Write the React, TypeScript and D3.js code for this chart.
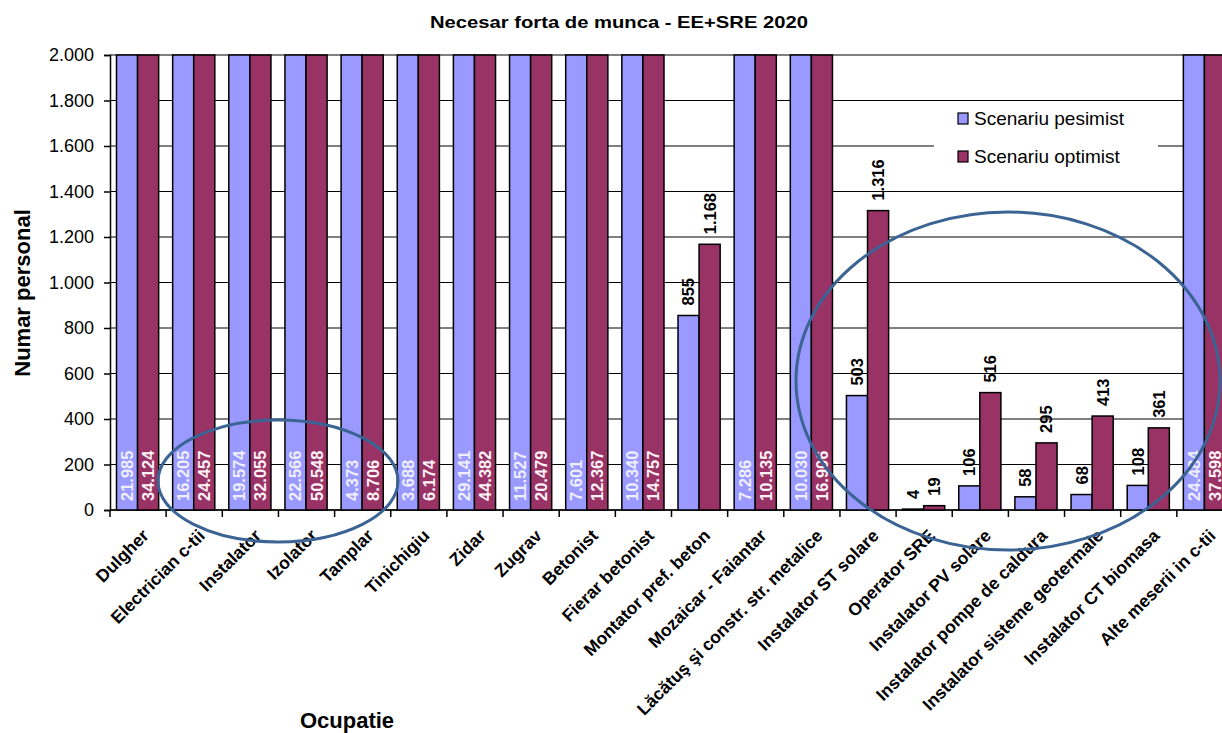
import React, { useRef, useEffect } from "react";
import * as d3 from "d3";

const categories: string[] = [
  "Dulgher",
  "Electrician c-tii",
  "Instalator",
  "Izolator",
  "Tamplar",
  "Tinichigiu",
  "Zidar",
  "Zugrav",
  "Betonist",
  "Fierar betonist",
  "Montator pref. beton",
  "Mozaicar - Faiantar",
  "Lăcătuş şi constr. str. metalice",
  "Instalator ST solare",
  "Operator SRE",
  "Instalator PV solare",
  "Instalator pompe de caldura",
  "Instalator sisteme geotermale",
  "Instalator CT biomasa",
  "Alte meserii in c-tii",
];

const pesimist: number[] = [
  21985, 16205, 19574, 22566, 4373, 3688, 29141, 11527, 7601, 10340, 855, 7286,
  10030, 503, 4, 106, 58, 68, 108, 24484,
];

const optimist: number[] = [
  34124, 24457, 32055, 50548, 8706, 6174, 44382, 20479, 12367, 14757, 1168,
  10135, 16906, 1316, 19, 516, 295, 413, 361, 37598,
];

const seriesNames: string[] = ["Scenariu pesimist", "Scenariu optimist"];
const yTicks: number[] = [0, 200, 400, 600, 800, 1000, 1200, 1400, 1600, 1800, 2000];

const COLORS = ["#9999ff", "#993366"];
const INSIDE_TEXT = ["#eeeeff", "#fff2f6"];
const FONT = "'Liberation Sans', Arial, sans-serif";

const roFormat = d3.formatLocale({
  decimal: ",",
  thousands: ".",
  grouping: [3],
  currency: ["", ""],
}).format(",d");

const App: React.FC = () => {
  const d3Container = useRef<SVGSVGElement>(null);

  useEffect(() => {
    const width = 1222;
    const height = 733;
    const left = 110;
    const top = 55;
    const bottom = 510;
    const right = 1233;

    const svg = d3.select(d3Container.current);
    svg.selectChildren().remove();

    svg
      .append("rect")
      .attr("width", width)
      .attr("height", height)
      .attr("fill", "#fff");

    const x = d3.scaleBand().domain(categories).range([left, right]).padding(0);
    const xs = d3
      .scaleBand()
      .domain(seriesNames)
      .range([6.5, x.bandwidth() - 7.5]);
    const y = d3.scaleLinear().domain([0, 2000]).range([bottom, top]);

    // gridlines
    svg
      .append("g")
      .selectAll("line")
      .data(yTicks)
      .join("line")
      .attr("x1", left)
      .attr("x2", width)
      .attr("y1", (d) => y(d))
      .attr("y2", (d) => y(d))
      .attr("stroke", "#000")
      .attr("stroke-width", 1);

    // y axis
    const yAxis = svg
      .append("g")
      .attr("transform", `translate(${left},0)`)
      .call(
        d3
          .axisLeft(y)
          .tickValues(yTicks)
          .tickSize(6)
          .tickPadding(10)
          .tickFormat((d) => roFormat(d as number))
      );
    yAxis.select(".domain").attr("stroke", "#000").attr("stroke-width", 1.5);
    yAxis.selectAll("line").attr("stroke-width", 1.5);
    yAxis
      .selectAll("text")
      .attr("font-family", FONT)
      .attr("font-size", 18)
      .attr("fill", "#000");

    // x axis ticks at category boundaries
    const boundaries = d3.range(categories.length + 1).map((i) => left + i * x.bandwidth());
    svg
      .append("g")
      .selectAll("line")
      .data(boundaries)
      .join("line")
      .attr("x1", (d) => d)
      .attr("x2", (d) => d)
      .attr("y1", bottom)
      .attr("y2", bottom + 7)
      .attr("stroke", "#000")
      .attr("stroke-width", 1.5);
    svg
      .append("line")
      .attr("x1", left)
      .attr("x2", width)
      .attr("y1", bottom)
      .attr("y2", bottom)
      .attr("stroke", "#000")
      .attr("stroke-width", 1.5);

    // bars
    const rows = categories.map((c, i) => ({
      cat: c,
      vals: [pesimist[i], optimist[i]],
    }));

    const groups = svg
      .append("g")
      .selectAll("g")
      .data(rows)
      .join("g")
      .attr("transform", (d) => `translate(${x(d.cat)},0)`);

    seriesNames.forEach((s, si) => {
      groups
        .append("rect")
        .attr("x", xs(s)!)
        .attr("width", xs.bandwidth())
        .attr("y", (d) => y(Math.min(d.vals[si], 2000)))
        .attr("height", (d) => bottom - y(Math.min(d.vals[si], 2000)))
        .attr("fill", COLORS[si])
        .attr("stroke", "#000")
        .attr("stroke-width", 1.5);

      groups
        .append("text")
        .attr("transform", (d) => {
          const cx = xs(s)! + xs.bandwidth() / 2;
          const v = d.vals[si];
          const ty = v >= 2000 ? bottom - 9 : y(v) - 10;
          return `translate(${cx},${ty}) rotate(-90)`;
        })
        .attr("dy", "0.36em")
        .attr("text-anchor", "start")
        .attr("font-family", FONT)
        .attr("font-weight", "bold")
        .attr("font-size", 16.5)
        .attr("fill", (d) => (d.vals[si] >= 2000 ? INSIDE_TEXT[si] : "#000"))
        .text((d) => roFormat(d.vals[si]));
    });

    // category labels
    svg
      .append("g")
      .selectAll("text")
      .data(categories)
      .join("text")
      .attr(
        "transform",
        (d) => `translate(${x(d)! + x.bandwidth() / 2 + 3},${bottom + 18}) rotate(-45)`
      )
      .attr("dy", "0.71em")
      .attr("text-anchor", "end")
      .attr("font-family", FONT)
      .attr("font-weight", "bold")
      .attr("font-size", 17.5)
      .attr("fill", "#000")
      .text((d) => d);

    // legend
    const legend = svg.append("g");
    legend
      .append("rect")
      .attr("x", 934)
      .attr("y", 104)
      .attr("width", 224)
      .attr("height", 80)
      .attr("fill", "#fff");
    seriesNames.forEach((s, i) => {
      const ly = 113 + i * 38;
      legend
        .append("rect")
        .attr("x", 958)
        .attr("y", ly)
        .attr("width", 10)
        .attr("height", 11)
        .attr("fill", COLORS[i])
        .attr("stroke", "#000")
        .attr("stroke-width", 1.2);
      legend
        .append("text")
        .attr("x", 974)
        .attr("y", ly + 12)
        .attr("font-family", FONT)
        .attr("font-size", 19)
        .attr("fill", "#000")
        .text(s);
    });

    // titles
    svg
      .append("text")
      .attr("x", 619)
      .attr("y", 28)
      .attr("text-anchor", "middle")
      .attr("font-family", FONT)
      .attr("font-weight", "bold")
      .attr("font-size", 17)
      .attr("textLength", 378)
      .attr("lengthAdjust", "spacingAndGlyphs")
      .text("Necesar forta de munca - EE+SRE 2020");

    svg
      .append("text")
      .attr("transform", "translate(30,293) rotate(-90)")
      .attr("text-anchor", "middle")
      .attr("font-family", FONT)
      .attr("font-weight", "bold")
      .attr("font-size", 22)
      .text("Numar personal");

    svg
      .append("text")
      .attr("x", 347)
      .attr("y", 728)
      .attr("text-anchor", "middle")
      .attr("font-family", FONT)
      .attr("font-weight", "bold")
      .attr("font-size", 22)
      .text("Ocupatie");

    // highlight ellipses
    const ellipses = [
      { cx: 278, cy: 481, rx: 120, ry: 61 },
      { cx: 1008, cy: 381, rx: 212, ry: 169 },
    ];
    svg
      .append("g")
      .selectAll("ellipse")
      .data(ellipses)
      .join("ellipse")
      .attr("cx", (d) => d.cx)
      .attr("cy", (d) => d.cy)
      .attr("rx", (d) => d.rx)
      .attr("ry", (d) => d.ry)
      .attr("fill", "none")
      .attr("stroke", "#3b6494")
      .attr("stroke-width", 3);
  }, []);

  return (
    <svg
      ref={d3Container}
      width={1222}
      height={733}
      style={{ position: "absolute", left: 0, top: 0, display: "block" }}
    />
  );
};

export default App;
